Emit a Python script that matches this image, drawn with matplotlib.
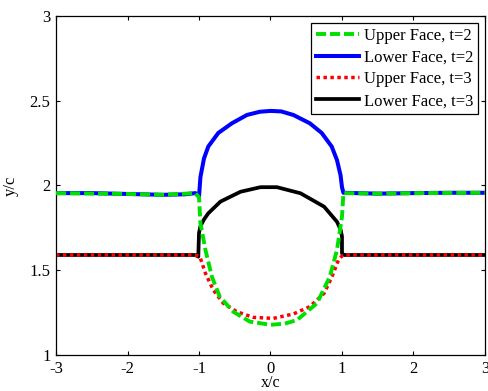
import matplotlib
matplotlib.use('Agg')
import matplotlib.pyplot as plt

# upper face, t=2
x_up2 = [-3, -2, -1.5, -1.05, -1.0, -0.98, -0.91, -0.82, -0.71, -0.52, -0.29, 0.0, 0.2, 0.37,
         0.65, 0.83, 0.93, 1.0, 1.02, 1.5, 2, 3]
y_up2 = [1.955, 1.95, 1.945, 1.955, 1.93, 1.777, 1.62, 1.462, 1.344, 1.255, 1.197, 1.178, 1.185, 1.206,
         1.305, 1.462, 1.62, 1.816, 1.955, 1.952, 1.955, 1.957]

# lower face, t=2
x_lo2 = [-3, -2.5, -2, -1.5, -1.2, -1.05, -1.0, -0.98, -0.93, -0.87, -0.73, -0.54, -0.33, -0.15, 0.0,
         0.15, 0.32, 0.55, 0.716, 0.856, 0.93, 0.98, 1.0, 1.02, 1.2, 1.5, 2, 2.5, 3]
y_lo2 = [1.955, 1.955, 1.95, 1.945, 1.948, 1.955, 1.935, 2.05, 2.16, 2.23, 2.31, 2.367, 2.416, 2.435, 2.44,
         2.437, 2.416, 2.367, 2.31, 2.23, 2.15, 2.06, 1.99, 1.957, 1.955, 1.952, 1.955, 1.957, 1.957]

# upper face, t=3
x_up3 = [-3, -2, -1.05, -1.0, -0.98, -0.91, -0.80, -0.66, -0.47, -0.24, 0.04, 0.32, 0.55, 0.75,
         0.86, 0.95, 1.0, 1.05, 2, 3]
y_up3 = [1.59, 1.59, 1.59, 1.58, 1.57, 1.482, 1.383, 1.305, 1.255, 1.222, 1.216, 1.242, 1.285, 1.364,
         1.462, 1.56, 1.585, 1.59, 1.59, 1.59]

# lower face, t=3
x_lo3 = [-3, -2, -1.05, -1.01, -1.0, -0.98, -0.93, -0.87, -0.70, -0.42, -0.14, 0.09, 0.42, 0.75, 0.93,
         0.98, 1.0, 1.0, 1.03, 2, 3]
y_lo3 = [1.59, 1.59, 1.59, 1.58, 1.72, 1.76, 1.80, 1.836, 1.905, 1.963, 1.99, 1.99, 1.954, 1.875, 1.786,
         1.74, 1.70, 1.6, 1.59, 1.59, 1.59]

labels = ['Upper Face, t=2', 'Lower Face, t=2', 'Upper Face, t=3', 'Lower Face, t=3']
x_ticks = [-3, -2, -1, 0, 1, 2, 3]
y_ticks = [1, 1.5, 2, 2.5, 3]

plt.rcParams['font.family'] = ['Liberation Serif', 'DejaVu Serif']
plt.rcParams['font.size'] = 12

fig = plt.figure(figsize=(4.88, 3.91), dpi=100)
ax = fig.add_axes([0.1148, 0.0921, 0.879, 0.867])

ax.plot(x_up2, y_up2, color='#00e000', lw=2.8, dashes=(2.6, 1.0), label=labels[0], zorder=3)
ax.plot(x_lo2, y_lo2, color='#0000ff', lw=2.9, label=labels[1], zorder=2)
ax.plot(x_up3, y_up3, color='#ff0000', lw=2.5, dashes=(1, 1), label=labels[2], zorder=2.5)
ax.plot(x_lo3, y_lo3, color='black', lw=2.7, label=labels[3], zorder=2)

ax.set_xlim(-3, 3)
ax.set_ylim(1, 3)
ax.set_xticks(x_ticks)
ax.set_yticks(y_ticks)
ax.set_xticklabels(['-3', '-2', '-1', '0', '1', '2', '3'])
ax.set_yticklabels(['1', '1.5', '2', '2.5', '3'])
ax.tick_params(direction='in', top=True, right=True, length=3, width=0.8, labelsize=12)
ax.tick_params(axis='x', pad=4)
ax.tick_params(axis='y', pad=4)
for s in ax.spines.values():
    s.set_linewidth(0.9)

ax.set_xlabel('x/c', fontsize=11.5, labelpad=-1)
ax.set_ylabel('y/c', fontsize=12, labelpad=8)

leg = ax.legend(loc='upper right', fancybox=False, edgecolor='black', framealpha=1,
                handlelength=2.6, handletextpad=0.3, labelspacing=0.35, borderpad=0.3,
                borderaxespad=0.4, fontsize=12)
leg.get_frame().set_linewidth(0.9)

fig.savefig('out.png', dpi=100)
